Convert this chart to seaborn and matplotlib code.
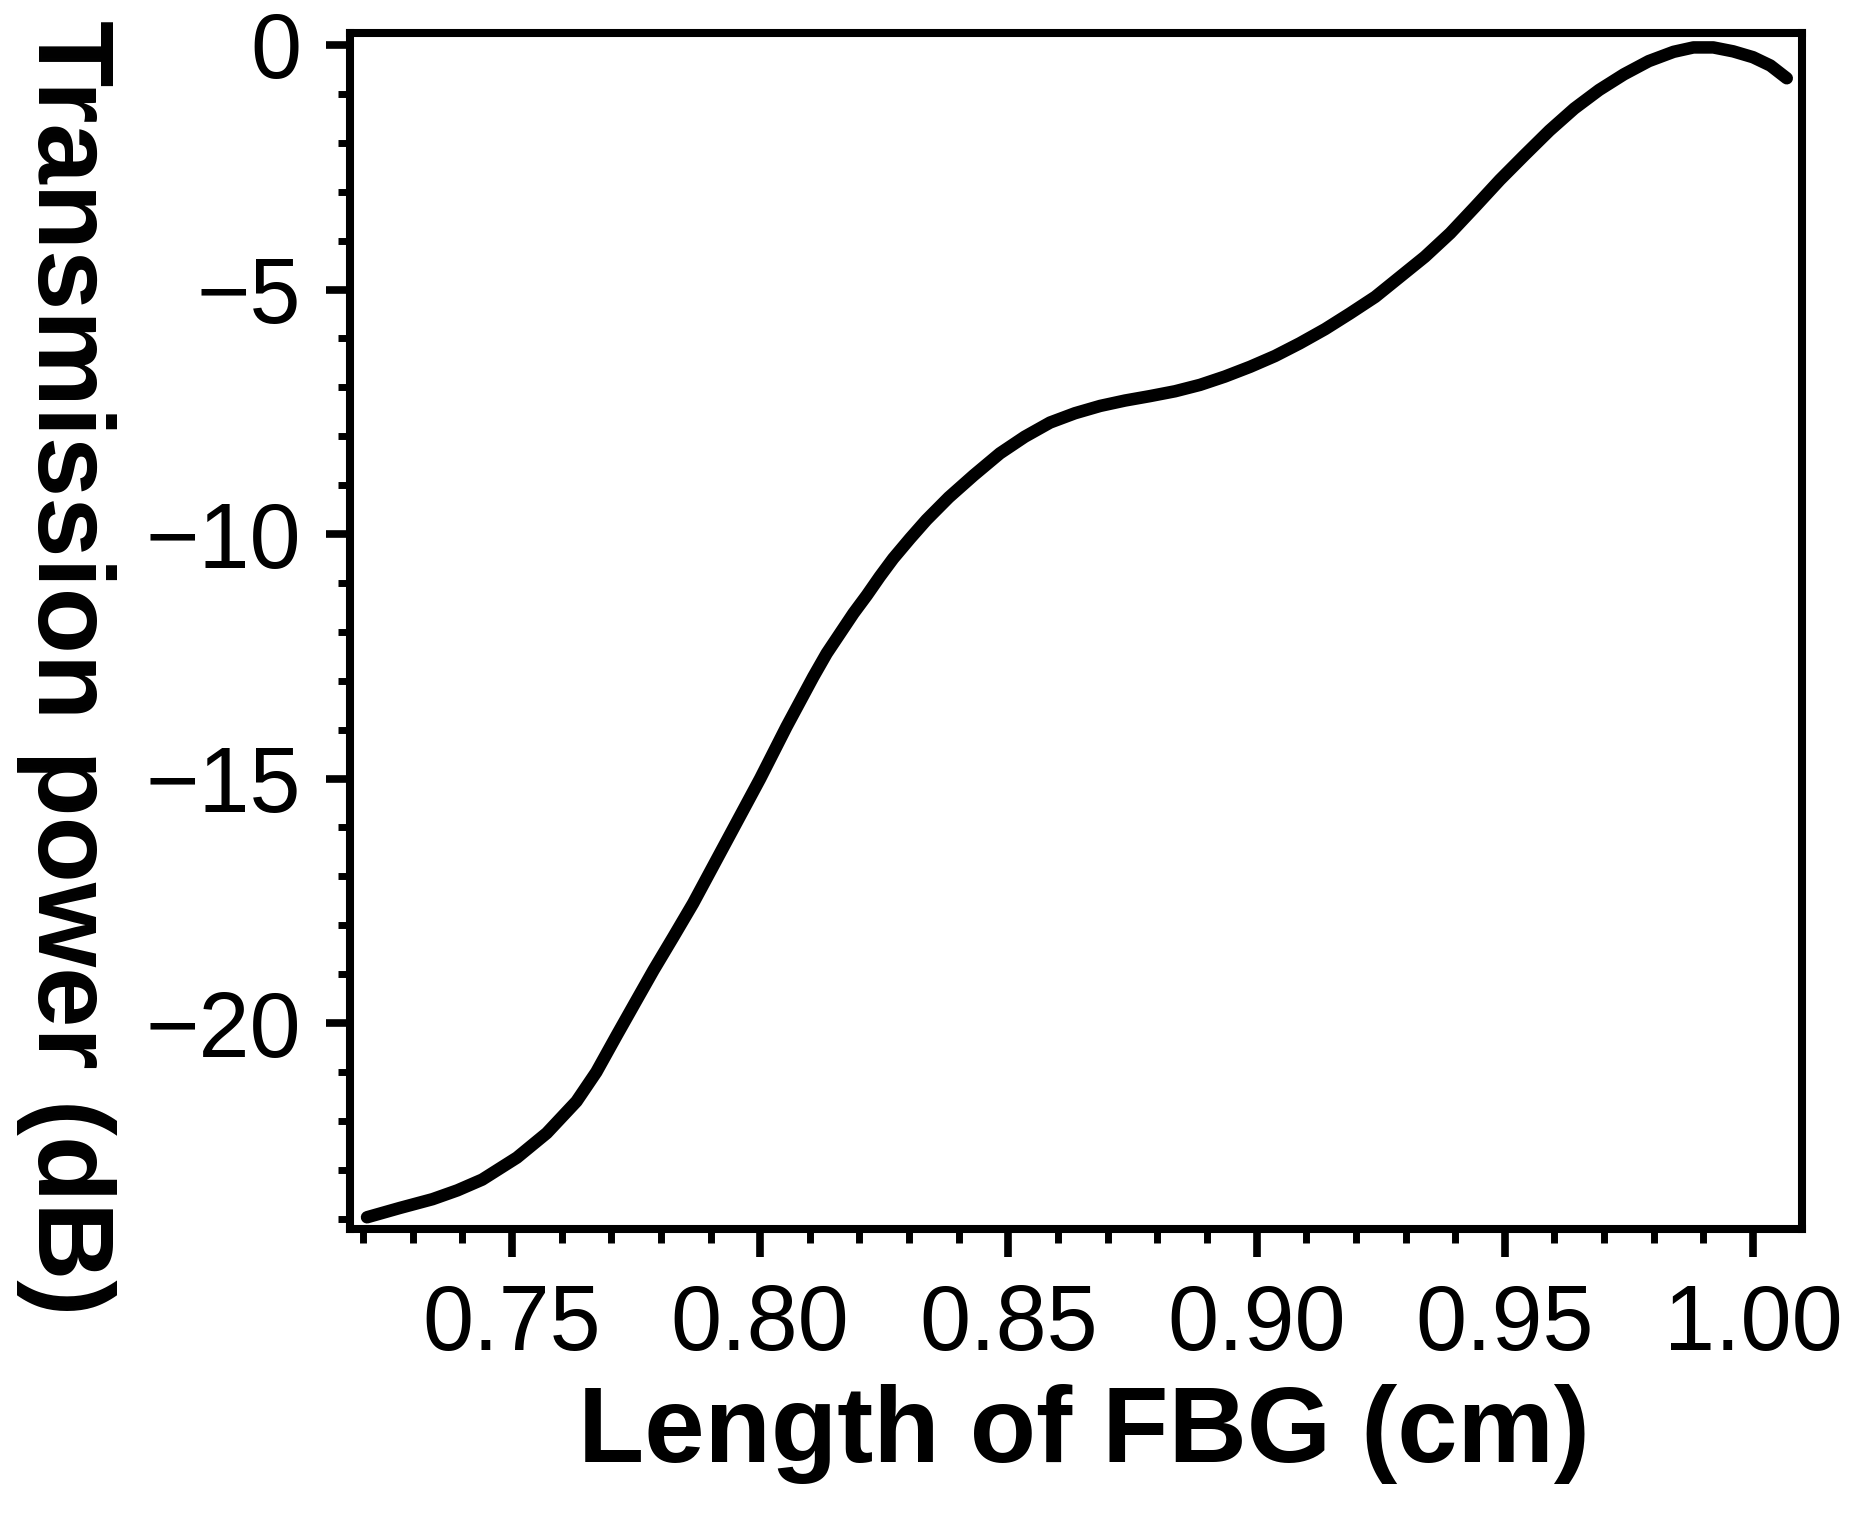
import numpy as np
import pandas as pd
import matplotlib
matplotlib.use("Agg")
import matplotlib.pyplot as plt
from matplotlib.ticker import MultipleLocator, FormatStrFormatter
import seaborn as sns

# Data
length_cm = [0.7208, 0.7274, 0.734, 0.739, 0.744, 0.751, 0.757, 0.763,
             0.767, 0.7711, 0.7751, 0.7785, 0.7825, 0.7865, 0.7892, 0.7919,
             0.7946, 0.7973, 0.8000, 0.8026, 0.8053, 0.8080, 0.8107, 0.8134,
             0.8161, 0.8188, 0.8215, 0.8241, 0.8268, 0.8302, 0.8335, 0.838,
             0.843, 0.8483, 0.8533, 0.8584, 0.8634, 0.8685, 0.8735, 0.8785,
             0.8836, 0.8886, 0.8936, 0.8987, 0.9037, 0.9087, 0.9138, 0.9188,
             0.9239, 0.9289, 0.9339, 0.939, 0.944, 0.949, 0.954, 0.959,
             0.964, 0.969, 0.974, 0.979, 0.984, 0.988, 0.992, 0.996,
             1.000, 1.0035, 1.0068]
power_db = [-23.97, -23.78, -23.6, -23.42, -23.2, -22.75, -22.25, -21.6,
            -21.0, -20.25, -19.53, -18.92, -18.24, -17.55, -17.04, -16.53,
            -16.02, -15.51, -15.0, -14.48, -13.94, -13.43, -12.92, -12.44,
            -12.03, -11.62, -11.25, -10.87, -10.50, -10.09, -9.71, -9.25,
            -8.8, -8.35, -8.01, -7.72, -7.53, -7.38, -7.27, -7.18,
            -7.08, -6.95, -6.78, -6.58, -6.36, -6.10, -5.81, -5.49,
            -5.15, -4.74, -4.33, -3.85, -3.31, -2.76, -2.25, -1.75,
            -1.3, -0.92, -0.6, -0.33, -0.14, -0.05, -0.05, -0.13,
            -0.25, -0.42, -0.68]

x_major = [0.75, 0.80, 0.85, 0.90, 0.95, 1.00]
y_major = [0, -5, -10, -15, -20]
x_label = "Length of FBG (cm)"
y_label = "Transmission power (dB)"

df = pd.DataFrame({"length": length_cm, "power": power_db})

sns.set_style("ticks")
plt.rcParams['font.family'] = ['Liberation Sans', 'DejaVu Sans']
plt.rcParams['text.color'] = 'black'
plt.rcParams['axes.labelcolor'] = 'black'
plt.rcParams['xtick.color'] = 'black'
plt.rcParams['ytick.color'] = 'black'
plt.rcParams['axes.edgecolor'] = 'black'

W, H = 1850, 1526
fig = plt.figure(figsize=(W / 100, H / 100), dpi=100)
L, R, T, B = 350, 1802, 33, 1229
ax = fig.add_axes([L / W, 1 - B / H, (R - L) / W, (B - T) / H])

sns.lineplot(data=df, x="length", y="power", ax=ax, color="black",
             linewidth=9, solid_capstyle="round", solid_joinstyle="round",
             sort=False)

ax.set_xlim(0.71737, 1.00987)
ax.set_ylim(-24.21, 0.245)

ax.set_xticks(x_major)
ax.set_yticks(y_major)
ax.xaxis.set_major_formatter(FormatStrFormatter('%.2f'))
ax.xaxis.set_minor_locator(MultipleLocator(0.01))
ax.yaxis.set_minor_locator(MultipleLocator(1))

for s in ax.spines.values():
    s.set_visible(True)
    s.set_linewidth(5.8)
    s.set_color("black")

ax.tick_params(axis='both', which='both', direction='out', color='black',
               labelcolor='black', top=False, right=False)
ax.tick_params(axis='x', which='major', length=20, width=5.5, pad=19,
               labelsize=66)
ax.tick_params(axis='x', which='minor', length=10, width=5)
ax.tick_params(axis='y', which='major', length=17, width=5.5, pad=18,
               labelsize=66)
ax.tick_params(axis='y', which='minor', length=9, width=5)

ax.set_xlabel(x_label, fontsize=78, fontweight='bold', ha='center',
              va='baseline', color='black')
ax.xaxis.set_label_coords(0.5055, -0.1948)
ax.set_ylabel(y_label, fontsize=78, fontweight='bold', rotation=270,
              rotation_mode='anchor', ha='center', va='baseline',
              color='black')
ax.yaxis.set_label_coords(-0.2149, 0.4691)

ax.grid(False)
fig.savefig("out.png", dpi=100, facecolor="white")
